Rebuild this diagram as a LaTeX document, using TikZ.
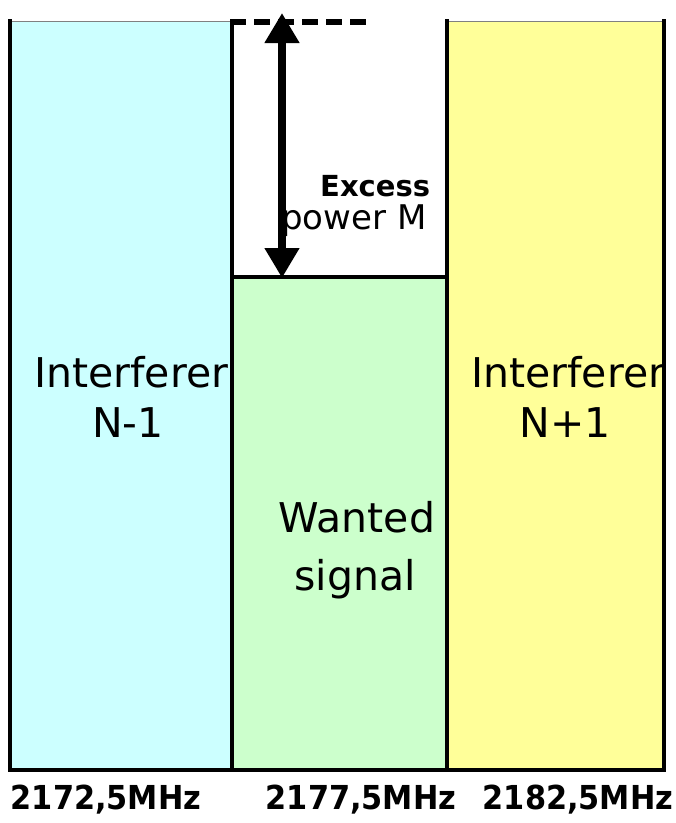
\documentclass[tikz,border=0pt]{standalone}
\usepackage{fontspec}
\setmainfont{DejaVu Sans}
\usetikzlibrary{arrows.meta}
\definecolor{chcyan}{HTML}{CCFFFF}
\definecolor{chgreen}{HTML}{CCFFCC}
\definecolor{chyellow}{HTML}{FFFF99}
\begin{document}
\begin{tikzpicture}[x=1pt,y=-1pt,
	band/.style={draw=black!50,line width=0.8pt},
	edge/.style={line width=4pt},
	chtext/.style={inner sep=0pt,font=\fontsize{41}{41}\selectfont},
	freq/.style={inner sep=0pt,anchor=base,font=\bfseries\fontsize{33}{33}\selectfont}]
	\useasboundingbox (0,0) rectangle (676,823);
	% channels
	\fill[chcyan] (10,21) rectangle (232,770);
	\draw[band] (10,21) -- (232,21);
	\fill[chgreen] (232,277) rectangle (447,770);
	\fill[chyellow] (447,21) rectangle (664,770);
	\draw[band] (447,21) -- (664,21);
	% labels
	\draw (34,387) node[chtext,anchor=base west] (lname) {Interferer};
	\draw (128,437) node[chtext,anchor=base] (lnum) {N-1};
	\begin{scope}
		\clip (447,21) rectangle (664,770);
		\draw (471,387) node[chtext,anchor=base west] (rname) {Interferer};
	\end{scope}
	\draw (565,437) node[chtext,anchor=base] (rnum) {N+1};
	\draw (357,532) node[chtext,anchor=base] (wname) {Wanted};
	\draw (355,590) node[chtext,anchor=base] (wsig) {signal};
	\draw (320,196) node[inner sep=0pt,anchor=base west,font=\bfseries\fontsize{29}{29}\selectfont] (exc) {Excess};
	\draw (281,229) node[inner sep=0pt,anchor=base west,font=\fontsize{34}{34}\selectfont] (pwr) {power M};
	% borders
	\draw[edge] (10,19) -- (10,770) -- (664,770) -- (664,19);
	\draw[edge] (232,19) -- (232,770);
	\draw[edge] (447,19) -- (447,770);
	\draw[edge] (232,277) -- (447,277);
	% margin
	\coordinate (dleft) at (230,22);
	\coordinate (dright) at (368,22);
	\draw[line width=5.5pt,dash pattern=on 16pt off 8pt] (dleft) -- (dright);
	\coordinate (mtop) at (282,13);
	\coordinate (mbot) at (282,278);
	\draw[line width=8pt,{Triangle[length=30pt,width=33pt]}-{Triangle[length=30pt,width=33pt]}] (mtop) -- (mbot);
	% frequencies
	\draw (106,809) node[freq] (f1) {\scalebox{0.92}[1]{2172,5MHz}};
	\draw (361,809) node[freq] (f2) {\scalebox{0.92}[1]{2177,5MHz}};
	\draw (578,809) node[freq] (f3) {\scalebox{0.92}[1]{2182,5MHz}};
\end{tikzpicture}
\end{document}
